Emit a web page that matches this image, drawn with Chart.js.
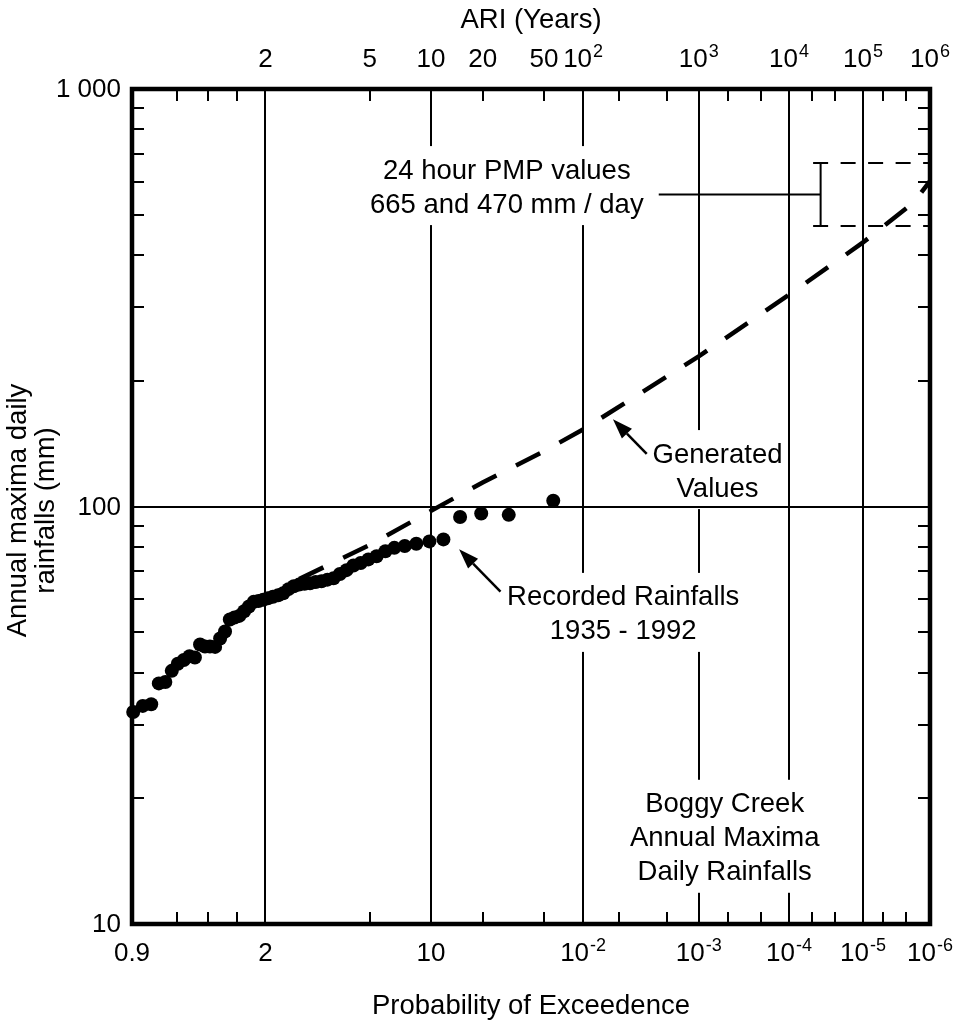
<!DOCTYPE html>
<html>
<head>
<meta charset="utf-8">
<title>Boggy Creek Annual Maxima Daily Rainfalls</title>
<script src="https://cdn.jsdelivr.net/npm/chart.js@4.4.1/dist/chart.umd.min.js"></script>
<style>
  html, body { margin: 0; padding: 0; background: #fff; }
  #wrap { width: 963px; height: 1025px; }
</style>
</head>
<body>
<div id="wrap"><canvas id="grafico" width="963" height="1025"></canvas></div>
<script>
const FONT = "'Liberation Sans', Arial, Helvetica, sans-serif"

// probability paper: exceedance probability -> reduced variate along the x axis
const paperProb = [0.9, 0.8, 0.7, 0.6, 0.5, 0.2, 0.1, 0.05, 0.02, 0.01, 5e-3, 2e-3, 1e-3, 5e-4, 2e-4, 1e-4, 5e-5, 2e-5, 1e-5, 5e-6, 2e-6, 1e-6]
const paperVar = [-1.032, -0.686, -0.441, -0.218, 0, 0.807, 1.281, 1.680, 2.155, 2.457, 2.734, 3.104, 3.351, 3.579, 3.835, 4.049, 4.224, 4.406, 4.622, 4.780, 4.955, 5.140]
const majorProb = [0.5, 0.1, 1e-2, 1e-3, 1e-4, 1e-5]

// tick labels
const bottomProb = [0.9, 0.5, 0.1, 1e-2, 1e-3, 1e-4, 1e-5, 1e-6]
const bottomBase = ['0.9', '2', '10', '10', '10', '10', '10', '10']
const bottomSup = ['', '', '', '-2', '-3', '-4', '-5', '-6']
const topProb = [0.5, 0.2, 0.1, 0.05, 0.02, 0.01, 1e-3, 1e-4, 1e-5, 1e-6]
const topBase = ['2', '5', '10', '20', '50', '10', '10', '10', '10', '10']
const topSup = ['', '', '', '', '', '2', '3', '4', '5', '6']
const yLabelVal = [10, 100, 1000]
const yLabelText = ['10', '100', '1 000']
const yMinor = [20, 30, 40, 50, 60, 70, 80, 90, 200, 300, 400, 500, 600, 700, 800, 900]

// recorded annual maxima 1935 - 1992, largest first
const recordedProb = [0.017, 0.034, 0.051, 0.068, 0.085, 0.102, 0.119, 0.136, 0.153, 0.169, 0.186, 0.203, 0.220, 0.237, 0.254, 0.271, 0.288, 0.305, 0.322, 0.339, 0.356, 0.373, 0.390, 0.407, 0.424, 0.441, 0.458, 0.475, 0.492, 0.508, 0.525, 0.542, 0.559, 0.576, 0.593, 0.610, 0.627, 0.644, 0.661, 0.678, 0.695, 0.712, 0.729, 0.746, 0.763, 0.780, 0.797, 0.814, 0.831, 0.847, 0.864, 0.881, 0.898]
const recordedMm = [103.2, 95.5, 96.2, 94.4, 83.4, 82.5, 81.4, 80.4, 79.6, 78.1, 76.0, 74.7, 73.2, 72.2, 70.4, 68.9, 67.3, 66.8, 66.2, 65.9, 65.5, 65.3, 65.0, 64.4, 63.4, 62.0, 61.3, 60.8, 60.3, 59.8, 59.4, 59.1, 57.6, 56.1, 54.7, 54.2, 53.6, 50.2, 48.3, 46.1, 46.2, 46.2, 46.7, 43.5, 43.8, 42.9, 42.0, 40.4, 38.0, 37.7, 33.6, 33.3, 32.2]

// generated values
const generatedProb = [0.39, 0.2, 0.1, 0.05, 0.02, 0.01, 1e-3, 1e-4, 1e-5, 1.6e-6, 1e-6]
const generatedMm = [67, 80.9, 97.6, 114.2, 135.7, 153, 228.8, 321.3, 429.1, 535, 601.6]

// 24 hour PMP
const pmpMm = [665, 470]
const pmpBarVar = 4.294
const pmpCapVar = 4.236
const pmpLeaderVar = 3.042

// annotations: [reduced variate, mm] of the text block centre
const notes = [
    { at: [1.867, 579], lines: ['24 hour PMP values', '665 and 470 mm / day'] },
    { at: [3.497, 120.9], lines: ['Generated', 'Values'] },
    { at: [2.767, 55], lines: ['Recorded Rainfalls', '1935 - 1992'] },
    { at: [3.552, 16], lines: ['Boggy Creek', 'Annual Maxima', 'Daily Rainfalls'] }
]
const arrows = [
    { from: [1.818, 62.5], to: [1.498, 78.95] },
    { from: [2.949, 133.6], to: [2.688, 161.8] }
]

function logit(p) { return Math.log10(p / (1 - p)) }

function paperPos(p) {
    for (let i = 0; i < paperProb.length - 1; i++) {
        const a = paperProb[i], b = paperProb[i + 1]
        if (p <= a && p >= b) {
            const t = (logit(a) - logit(p)) / (logit(a) - logit(b))
            return paperVar[i] + t * (paperVar[i + 1] - paperVar[i])
        }
    }
    return p > paperProb[0] ? paperVar[0] : paperVar[paperVar.length - 1]
}

const recorded = recordedProb.map((p, i) => ({ x: paperPos(p), y: recordedMm[i] }))
const generated = generatedProb.map((p, i) => ({ x: paperPos(p), y: generatedMm[i] }))

const xMin = paperVar[0]
const xMax = paperVar[paperVar.length - 1]

function supLabel(ctx, base, sup, cx, baseline) {
    ctx.font = `26px ${FONT}`
    const wb = ctx.measureText(base).width
    ctx.font = `18px ${FONT}`
    const ws = sup ? ctx.measureText(sup).width + 1 : 0
    const x0 = cx - (wb + ws) / 2
    ctx.textAlign = 'left'
    ctx.textBaseline = 'alphabetic'
    ctx.font = `26px ${FONT}`
    ctx.fillText(base, x0, baseline)
    if (sup) {
        ctx.font = `18px ${FONT}`
        ctx.fillText(sup, x0 + wb + 1, baseline - 10)
    }
}

function line(ctx, x1, y1, x2, y2) {
    ctx.beginPath()
    ctx.moveTo(x1, y1)
    ctx.lineTo(x2, y2)
    ctx.stroke()
}

const paperPlugin = {
    id: 'paper',
    beforeDatasetsDraw(chart) {
        const { ctx, chartArea: a, scales: { x, y } } = chart
        ctx.save()
        ctx.strokeStyle = '#000'
        ctx.fillStyle = '#000'
        ctx.lineWidth = 2

        // vertical grid at the major probabilities
        majorProb.forEach(p => {
            const px = Math.round(x.getPixelForValue(paperPos(p)))
            line(ctx, px, a.top, px, a.bottom)
        })

        // white boxes behind the notes
        ctx.font = `27.5px ${FONT}`
        notes.forEach(n => {
            const cx = x.getPixelForValue(n.at[0])
            const cy = y.getPixelForValue(n.at[1])
            const first = cy - (n.lines.length - 1) * 17
            const last = cy + (n.lines.length - 1) * 17
            const w = Math.max(...n.lines.map(t => ctx.measureText(t).width)) + 10
            ctx.fillStyle = '#fff'
            ctx.fillRect(cx - w / 2, first - 25, w, last - first + 45)
        })

        // 100 mm line
        ctx.fillStyle = '#000'
        const y100 = Math.round(y.getPixelForValue(100))
        line(ctx, a.left, y100, a.right, y100)

        // notes
        ctx.textAlign = 'center'
        ctx.textBaseline = 'middle'
        notes.forEach(n => {
            const cx = x.getPixelForValue(n.at[0])
            const cy = y.getPixelForValue(n.at[1])
            n.lines.forEach((t, i) => {
                ctx.fillText(t, cx, cy + (i - (n.lines.length - 1) / 2) * 34)
            })
        })

        // arrows
        arrows.forEach(ar => {
            const x1 = x.getPixelForValue(ar.from[0]), y1 = y.getPixelForValue(ar.from[1])
            const x2 = x.getPixelForValue(ar.to[0]), y2 = y.getPixelForValue(ar.to[1])
            const ang = Math.atan2(y2 - y1, x2 - x1)
            const len = 20, half = 7
            const bx = x2 - len * Math.cos(ang), by = y2 - len * Math.sin(ang)
            ctx.lineWidth = 2.5
            line(ctx, x1, y1, bx, by)
            ctx.beginPath()
            ctx.moveTo(x2, y2)
            ctx.lineTo(bx + half * Math.sin(ang), by - half * Math.cos(ang))
            ctx.lineTo(bx - half * Math.sin(ang), by + half * Math.cos(ang))
            ctx.closePath()
            ctx.fill()
        })

        // PMP bracket
        const barX = x.getPixelForValue(pmpBarVar)
        const capX = x.getPixelForValue(pmpCapVar)
        const yHi = y.getPixelForValue(pmpMm[0])
        const yLo = y.getPixelForValue(pmpMm[1])
        const yMid = y.getPixelForValue(Math.sqrt(pmpMm[0] * pmpMm[1]))
        ctx.lineWidth = 2
        line(ctx, barX, yHi, barX, yLo)
        line(ctx, x.getPixelForValue(pmpLeaderVar), yMid, barX, yMid)
        ctx.setLineDash([15, 12.5])
        line(ctx, capX, yHi, a.right, yHi)
        line(ctx, capX, yLo, a.right, yLo)
        ctx.setLineDash([])
        ctx.restore()
    },
    afterDraw(chart) {
        const { ctx, chartArea: a, scales: { x, y } } = chart
        ctx.save()
        ctx.strokeStyle = '#000'
        ctx.fillStyle = '#000'

        // inward ticks
        ctx.lineWidth = 2
        paperProb.slice(1, -1).forEach(p => {
            const px = Math.round(x.getPixelForValue(paperPos(p)))
            line(ctx, px, a.top, px, a.top + 12)
            line(ctx, px, a.bottom, px, a.bottom - 12)
        })
        yMinor.forEach(v => {
            const py = Math.round(y.getPixelForValue(v))
            line(ctx, a.left, py, a.left + 12, py)
            line(ctx, a.right, py, a.right - 12, py)
        })

        // frame
        ctx.lineWidth = 4.5
        ctx.strokeRect(a.left, a.top, a.right - a.left, a.bottom - a.top)

        // tick labels
        bottomProb.forEach((p, i) => {
            supLabel(ctx, bottomBase[i], bottomSup[i], x.getPixelForValue(paperPos(p)), 961)
        })
        topProb.forEach((p, i) => {
            supLabel(ctx, topBase[i], topSup[i], x.getPixelForValue(paperPos(p)), 67)
        })
        ctx.font = `26px ${FONT}`
        ctx.textAlign = 'right'
        ctx.textBaseline = 'middle'
        yLabelVal.forEach((v, i) => {
            ctx.fillText(yLabelText[i], 121, y.getPixelForValue(v) + 1)
        })

        // axis titles
        ctx.font = `27.5px ${FONT}`
        ctx.textAlign = 'center'
        ctx.textBaseline = 'alphabetic'
        const cx = (a.left + a.right) / 2
        ctx.fillText('ARI (Years)', cx, 28)
        ctx.fillText('Probability of Exceedence', cx, 1014)
        ctx.translate(18, (a.top + a.bottom) / 2 + 4)
        ctx.rotate(-Math.PI / 2)
        ctx.textBaseline = 'middle'
        ctx.fillText('Annual maxima daily', 0, 0)
        ctx.fillText('rainfalls (mm)', 0, 28)
        ctx.restore()
    }
}

const context = document.getElementById('grafico').getContext('2d')

const hidden = {
    grid: { display: false },
    border: { display: false },
    ticks: { display: false },
    title: { display: false }
}

new Chart(context, {
    type: 'scatter',
    data: {
        datasets: [
            {
                label: 'Recorded Rainfalls',
                data: recorded,
                pointRadius: 7,
                pointHoverRadius: 7,
                pointBorderWidth: 0,
                backgroundColor: '#000',
                borderColor: '#000',
                clip: false,
                order: 1
            },
            {
                label: 'Generated Values',
                data: generated,
                showLine: true,
                borderColor: '#000',
                borderWidth: 4.5,
                borderDash: [27, 22],
                borderCapStyle: 'butt',
                pointRadius: 0,
                tension: 0,
                fill: false,
                clip: false,
                order: 2
            }
        ]
    },
    options: {
        responsive: false,
        animation: false,
        devicePixelRatio: 1,
        events: [],
        layout: { autoPadding: false, padding: { left: 0, right: 33, top: 0, bottom: 0 } },
        plugins: { legend: { display: false }, tooltip: { enabled: false } },
        scales: {
            x: {
                type: 'linear', position: 'bottom', min: xMin, max: xMax, ...hidden,
                afterFit: s => { s.height = 101 }
            },
            xTop: {
                type: 'linear', position: 'top', min: xMin, max: xMax, ...hidden,
                afterFit: s => { s.height = 89 }
            },
            y: {
                type: 'logarithmic', position: 'left', min: 10, max: 1000, ...hidden,
                afterFit: s => { s.width = 132 }
            }
        }
    },
    plugins: [paperPlugin]
})
</script>
</body>
</html>
